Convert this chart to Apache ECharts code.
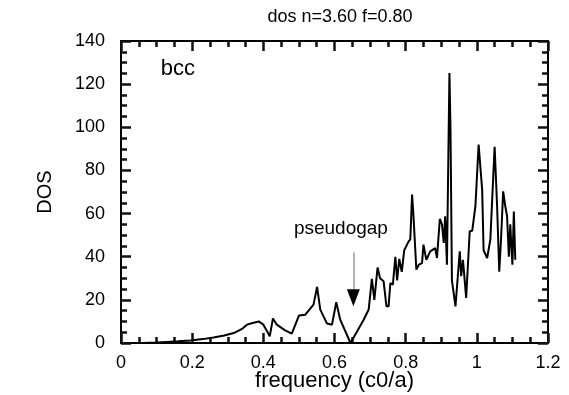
<!DOCTYPE html>
<html>
<head>
    <meta charset="utf-8">
    <script src="https://cdn.jsdelivr.net/npm/echarts@6/dist/echarts.min.js"></script>
    <style>
        html, body { margin: 0; padding: 0; background: #fff; }
        #chart { width: 569px; height: 395px; }
    </style>
</head>
<body>
    <div id="chart"></div>
    <script>
        // frequency (c0/a)
        var freq = [0.06, 0.1, 0.129, 0.16, 0.195, 0.23, 0.26, 0.29, 0.317, 0.34, 0.354, 0.37, 0.387, 0.40, 0.412,
            0.418, 0.423, 0.427, 0.438, 0.46, 0.48, 0.50, 0.518, 0.541, 0.551, 0.56, 0.579, 0.593, 0.605, 0.616,
            0.645, 0.682, 0.696, 0.705, 0.712, 0.721, 0.728, 0.738, 0.746, 0.752, 0.757, 0.764, 0.771, 0.776,
            0.782, 0.789, 0.796, 0.808, 0.813, 0.818, 0.822, 0.83, 0.837, 0.846, 0.85, 0.858, 0.869, 0.883,
            0.888, 0.896, 0.902, 0.907, 0.911, 0.916, 0.923, 0.926, 0.93, 0.94, 0.952, 0.956, 0.961, 0.97,
            0.975, 0.98, 0.987, 0.996, 1.005, 1.015, 1.019, 1.029, 1.038, 1.05, 1.057, 1.063, 1.068, 1.074,
            1.08, 1.085, 1.09, 1.094, 1.097, 1.10, 1.104, 1.108];
        // density of states
        var dos = [0, 0.2, 0.5, 0.8, 1.2, 1.8, 2.6, 3.5, 4.6, 6.5, 8.5, 9.3, 10, 8.5, 5,
            3.1, 3.5, 11.4, 8.5, 6, 4.3, 12.7, 13.1, 17.8, 26, 15.5, 9, 8.5, 18.9, 10.8,
            0, 10.8, 15.5, 29.7, 20, 35, 30, 28.6, 17, 17, 27.8, 27, 40, 29,
            39, 33, 43, 47, 48, 68.8, 58.7, 34, 36.3, 37, 45.6, 38.6, 42.5, 44,
            39.4, 57.5, 55, 46.4, 58.7, 36.3, 125.2, 99, 29, 17, 42.5, 31, 38.6, 20.9,
            21.5, 51.8, 52, 63.4, 92, 71, 43, 39.4, 48, 91, 63.4, 33, 48, 70.3,
            63.4, 58.7, 40, 55, 45, 36.3, 61, 38.6];

        var xTicks = [0, 0.2, 0.4, 0.6, 0.8, 1, 1.2];
        var yTicks = [0, 20, 40, 60, 80, 100, 120, 140];

        // arrow: from pseudogap label down to the dip
        var arrowX = 0.653;
        var arrowFrom = 42;
        var arrowHeadTop = 25;
        var arrowTo = 17;

        var font = 'Liberation Sans, Arial, Helvetica, sans-serif';

        var chart = echarts.init(document.getElementById('chart'));

        function axisBase(show) {
            return {
                type: 'value',
                axisLine: { show: true, onZero: false, lineStyle: { color: '#000', width: 2 } },
                axisTick: { show: true, inside: true, length: 10, lineStyle: { color: '#111', width: 2.5 } },
                minorTick: { show: true, splitNumber: 4, length: 6, lineStyle: { color: '#111', width: 2.5 } },
                splitLine: { show: false },
                axisLabel: { show: show, color: '#000', fontSize: 18, fontFamily: font }
            };
        }

        var xBottom = axisBase(true);
        xBottom.min = xTicks[0];
        xBottom.max = xTicks[xTicks.length - 1];
        xBottom.interval = 0.2;
        xBottom.position = 'bottom';
        xBottom.name = 'frequency (c0/a)';
        xBottom.nameLocation = 'middle';
        xBottom.nameGap = 27;
        xBottom.nameMoveOverlap = false;
        xBottom.nameTextStyle = { color: '#000', fontSize: 22, fontFamily: font };
        xBottom.axisLabel.margin = 11;

        var xTop = axisBase(false);
        xTop.min = xBottom.min;
        xTop.max = xBottom.max;
        xTop.interval = 0.2;
        xTop.position = 'top';

        var yLeft = axisBase(true);
        yLeft.min = yTicks[0];
        yLeft.max = yTicks[yTicks.length - 1];
        yLeft.interval = 20;
        yLeft.position = 'left';
        yLeft.name = 'DOS';
        yLeft.nameLocation = 'middle';
        yLeft.nameGap = 66;
        yLeft.nameMoveOverlap = false;
        yLeft.nameTextStyle = { color: '#000', fontSize: 20, fontFamily: font };
        yLeft.axisLabel.margin = 16;

        var yRight = axisBase(false);
        yRight.min = yLeft.min;
        yRight.max = yLeft.max;
        yRight.interval = 20;
        yRight.position = 'right';

        var points = freq.map(function (f, i) { return [f, dos[i]]; });

        function textPoint(coord, text, size, pos) {
            return {
                coord: coord,
                symbol: 'circle',
                symbolSize: 1,
                itemStyle: { color: 'rgba(0,0,0,0)' },
                label: {
                    show: true, formatter: text, position: pos, distance: 0,
                    color: '#000', fontSize: size, fontFamily: font
                }
            };
        }

        chart.setOption({
            animation: false,
            title: {
                text: 'dos n=3.60 f=0.80',
                left: 335,
                textAlign: 'center',
                top: 3,
                textStyle: { color: '#000', fontSize: 18, fontWeight: 'normal', fontFamily: font }
            },
            grid: { left: 121, right: 21, top: 41, bottom: 52, outerBoundsMode: 'none', containLabel: false },
            xAxis: [xBottom, xTop],
            yAxis: [yLeft, yRight],
            series: [{
                type: 'line',
                data: points,
                showSymbol: false,
                lineStyle: { color: '#000', width: 2 },
                xAxisIndex: 0,
                yAxisIndex: 0,
                markLine: {
                    silent: true,
                    symbol: ['none', 'none'],
                    label: { show: false },
                    lineStyle: { color: '#999', width: 1.5, type: 'solid' },
                    data: [[{ coord: [arrowX, arrowFrom] }, { coord: [arrowX, arrowHeadTop] }]]
                },
                markPoint: {
                    silent: true,
                    data: [
                        {
                            coord: [arrowX, arrowTo],
                            symbol: 'triangle',
                            symbolRotate: 180,
                            symbolSize: [13, 17],
                            symbolOffset: [0, -8.5],
                            itemStyle: { color: '#000' },
                            label: { show: false }
                        },
                        textPoint([0.11, 127], 'bcc', 22, 'right'),
                        textPoint([0.618, 53], 'pseudogap', 19, 'inside')
                    ]
                }
            }]
        });
    </script>
</body>
</html>
